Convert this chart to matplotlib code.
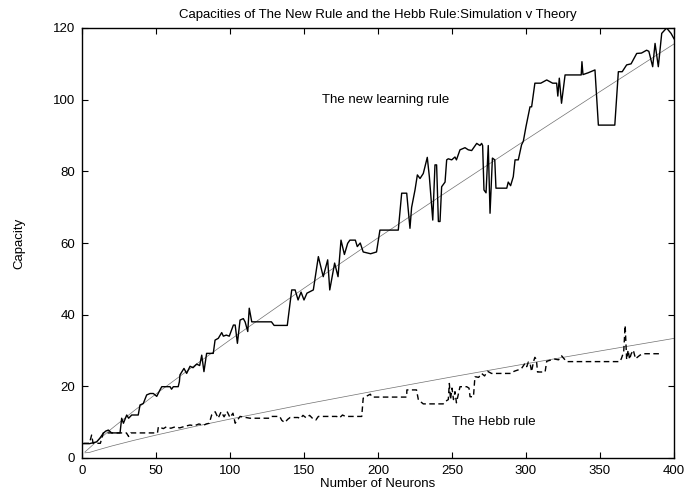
import numpy as np
import matplotlib
matplotlib.use("Agg")
import matplotlib.pyplot as plt

plt.rcParams["font.family"] = ["Liberation Sans", "DejaVu Sans"]

# ── Simulation: the new learning rule (solid) ───────────────────────────────
new_x = [1, 5, 9.9, 12, 14.4, 16, 17.8, 20, 25.7, 26.8,
         28, 30.2, 31.5, 33.6, 38, 39.2, 41.4, 43.7, 46, 48.2,
         50.5, 52.7, 53.9, 59.5, 60.5, 61.7, 65, 65.8, 66.2, 68.9,
         70.7, 73, 75, 77.5, 79.5, 80.9, 82.4, 84.2, 88.7, 89.9,
         92.1, 94.4, 95.5, 97.5, 99.5, 102.3, 103.5, 105, 106.8, 109,
         110.2, 112, 113, 114.7, 128, 129.8, 138.7, 141.7, 144, 146,
         148, 150, 152, 156.3, 159.7, 163, 166, 167.4, 170.7, 173,
         175, 177.3, 179.5, 181, 184.7, 186, 188, 190, 195, 199,
         201.3, 213.7, 216, 219.4, 221.6, 222.7, 225, 226.6, 228.4, 230.6,
         233.3, 234.7, 237, 238.5, 239.6, 240.8, 241.9, 243, 245.3, 246.4,
         247.5, 249.8, 252, 253, 255.4, 258.8, 261, 263.3, 266.7, 268.9,
         270, 270.7, 271.6, 273, 274.5, 275.7, 277.3, 278.9, 279.7, 287,
         288, 289.6, 291.4, 292.6, 294.8, 297, 298.2, 300, 302.7, 303.8,
         306, 306.8, 310, 314, 318, 320.7, 321.5, 322.5, 324, 326.4,
         330, 336, 337.3, 337.8, 338.5, 342, 346.6, 348.9, 360, 362.4,
         365, 368, 371, 374.8, 378, 381.5, 383, 385.6, 387.2, 389.4,
         391.7, 395, 398, 400]
new_y = [4, 4, 4.5, 5.5, 6.9, 7.5, 7.8, 7.0, 7.0, 11.1,
         9.7, 12.0, 11.1, 12.0, 12.0, 14.8, 15.2, 17.6, 18.0, 18.0,
         17.2, 19.0, 19.9, 19.9, 19.2, 19.9, 19.9, 21.3, 23.2, 25.0,
         23.6, 25.6, 25.2, 26.2, 25.8, 28.7, 24.1, 29.2, 29.2, 32.9,
         33.4, 35.0, 34.0, 34.3, 34.0, 37.1, 37.1, 32.0, 38.5, 38.9,
         38.0, 35.3, 41.8, 38.0, 38.0, 37.0, 37.0, 46.9, 46.9, 44.1,
         46.3, 44.1, 46.0, 46.9, 56.2, 50.6, 55.3, 46.9, 54.4, 50.6,
         60.8, 56.8, 59.9, 60.8, 60.8, 59.0, 60.0, 57.5, 57.0, 57.5,
         63.6, 63.6, 73.9, 73.9, 64.1, 69.9, 74.8, 79.0, 78.0, 79.4,
         83.9, 78.5, 66.4, 81.8, 81.8, 66.0, 66.0, 75.7, 77.0, 83.2,
         83.5, 83.2, 84.0, 83.2, 86.0, 86.6, 86.0, 85.8, 87.8, 87.2,
         87.8, 87.2, 74.8, 74.0, 87.2, 68.3, 83.7, 83.2, 75.3, 75.3,
         77.0, 76.0, 78.5, 83.2, 83.2, 87.4, 88.4, 92.5, 98.0, 98.0,
         104.6, 104.6, 104.6, 105.5, 104.6, 104.6, 101.0, 106.0, 99.0, 106.9,
         106.9, 106.9, 106.9, 110.6, 107.0, 107.5, 108.3, 92.9, 92.9, 107.8,
         107.8, 109.7, 110.0, 112.9, 113.0, 113.8, 113.5, 109.2, 115.7, 109.2,
         118.5, 120.0, 118.5, 117.0]

# ── Simulation: the Hebb rule (dashed) ──────────────────────────────────────
hebb_x = [1, 5, 6.5, 7.5, 12.4, 14.4, 30, 31.5, 33, 51,
          51.6, 55, 57, 60, 63, 66, 70, 73, 76, 79,
          82, 84, 86, 87.6, 90, 92, 94, 96, 98, 100,
          102, 103.5, 106.8, 113.5, 127, 128, 133.6, 135, 137, 139,
          140.6, 146, 147.5, 149.3, 151.5, 153.8, 155.9, 158, 159.7, 172,
          174, 176, 178, 186.7, 189, 190, 192, 194.8, 196, 219.4,
          219.5, 226, 227.3, 230.6, 244.1, 245.2, 247.5, 248.2, 249, 250,
          251, 252, 253, 255.4, 259.9, 261.5, 262.2, 264.5, 265.5, 268,
          270, 272, 274, 276.7, 290, 292, 294.8, 297, 299.3, 300.5,
          301.6, 302.7, 303.8, 305, 306, 307, 307.8, 312.9, 314, 317.3,
          319.5, 322, 324.1, 325.5, 327.5, 363.5, 364.5, 366, 367, 368,
          369, 370, 371, 372.5, 374, 375.5, 377, 379.3, 390.5]
hebb_y = [4.1, 4.1, 6.4, 4.1, 4.1, 7.0, 7.0, 6.0, 7.0, 7.0,
          8.7, 8.2, 8.7, 8.3, 8.7, 8.4, 8.9, 9.2, 9.0, 9.5,
          9.1, 9.5, 9.7, 12.0, 12.9, 11.1, 12.9, 11.5, 13.0, 11.3,
          12.5, 9.7, 11.6, 11.1, 11.1, 11.6, 11.6, 10.5, 9.9, 10.8,
          11.3, 11.3, 11.0, 11.9, 11.2, 11.9, 11.0, 10.6, 11.6, 11.6,
          11.2, 12.0, 11.6, 11.6, 11.6, 16.7, 17.2, 17.8, 17.0, 17.0,
          19.0, 19.0, 16.2, 15.1, 15.1, 15.7, 16.3, 20.8, 16.3, 19.5,
          16.3, 18.5, 15.4, 19.9, 19.9, 19.5, 17.1, 17.1, 22.7, 22.5,
          23.6, 22.9, 24.2, 23.6, 23.6, 24.2, 24.6, 25.0, 26.4, 25.5,
          26.8, 26.5, 24.1, 26.8, 28.1, 27.5, 24.0, 24.0, 27.0, 27.4,
          27.6, 27.4, 28.5, 27.8, 26.9, 26.9, 27.8, 29.6, 37.0, 27.5,
          30.1, 27.5, 29.0, 30.1, 27.7, 28.2, 28.7, 29.1, 29.1]

# ── Theory curves ───────────────────────────────────────────────────────────
theory_n = [2, 5, 10, 20, 35, 50, 75, 100, 150, 200, 250, 300, 350, 400]
theory_new = [1.70, 2.79, 4.66, 8.17, 13.13, 17.88, 25.52, 32.95,
              47.38, 61.44, 75.23, 88.82, 102.25, 115.55]
theory_hebb = [1.44, 1.55, 2.17, 3.34, 4.92, 6.39, 8.69, 10.86,
               14.97, 18.87, 22.64, 26.30, 29.87, 33.38]

x_ticks = [0, 50, 100, 150, 200, 250, 300, 350, 400]
y_ticks = [0, 20, 40, 60, 80, 100, 120]

FS = 9.5

fig = plt.figure(figsize=(6.84, 4.93), dpi=100, facecolor="white")
ax = fig.add_axes([82 / 684, 1 - 458 / 493, 592 / 684, 430 / 493])

ax.plot(theory_n, theory_new, color="#707070", linewidth=0.5)
ax.plot(theory_n, theory_hebb, color="#707070", linewidth=0.5)
ax.plot(new_x, new_y, color="black", linewidth=1.0)
ax.plot(hebb_x, hebb_y, color="black", linewidth=1.0, linestyle=(0, (4, 2.5)))

ax.set_xlim(0, 400)
ax.set_ylim(0, 120)
ax.set_xticks(x_ticks)
ax.set_yticks(y_ticks)
ax.tick_params(direction="in", length=4, width=0.8, top=True, right=True,
               labelsize=FS, pad=5)
for spine in ax.spines.values():
    spine.set_linewidth(1.0)

ax.text(162, 100, "The new learning rule", fontsize=FS, va="center", ha="left")
ax.text(250, 10, "The Hebb rule", fontsize=FS, va="center", ha="left")

fig.text(378 / 684, 1 - 15 / 493, "Capacities of The New Rule and the Hebb Rule:Simulation v Theory",
         fontsize=FS, ha="center", va="center")
fig.text(378 / 684, 1 - 484 / 493, "Number of Neurons", fontsize=FS, ha="center", va="center")
fig.text(19 / 684, 1 - 243 / 493, "Capacity", fontsize=FS, ha="center", va="center", rotation=90)

fig.savefig("out.png", dpi=100, facecolor="white")
